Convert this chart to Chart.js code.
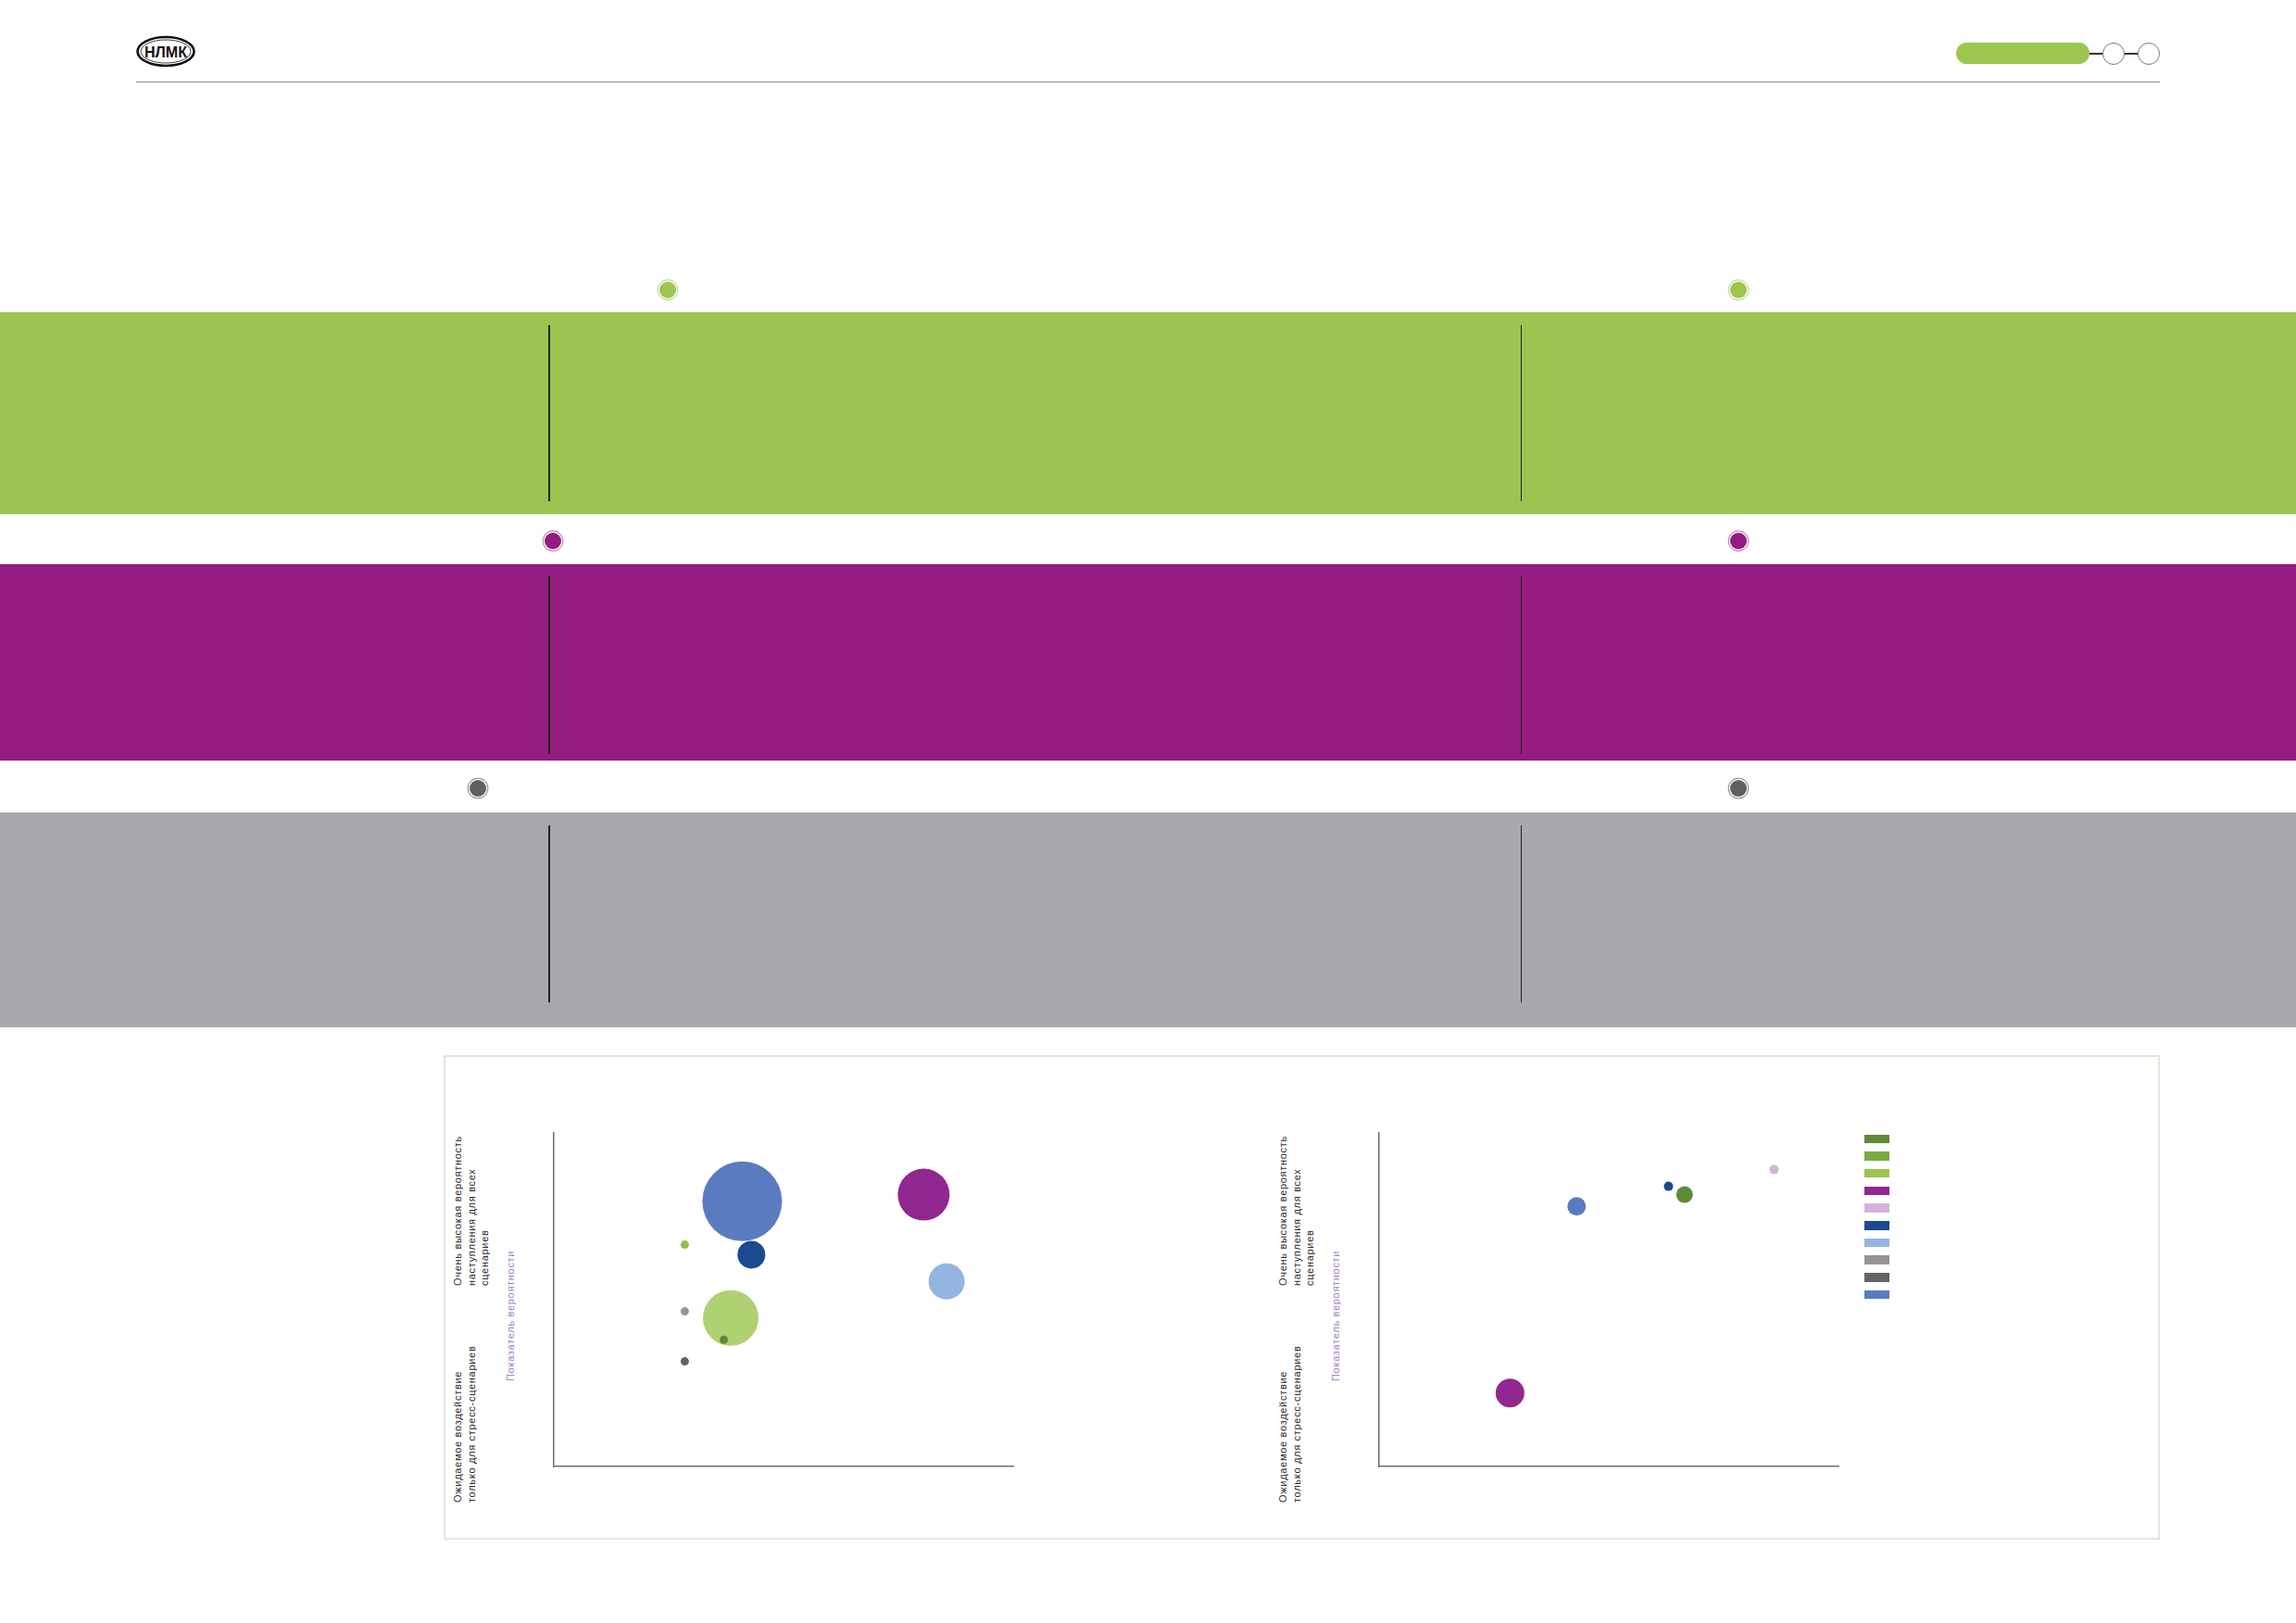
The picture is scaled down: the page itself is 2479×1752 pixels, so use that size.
<!DOCTYPE html>
<html lang="ru">
<head>
  <meta charset="UTF-8" />
  <title>НЛМК — карта климатических рисков</title>
  <script src="https://cdn.jsdelivr.net/npm/chart.js@4.4.1/dist/chart.umd.min.js"></script>
  <style>
    body {
      margin: 0;
      background: #fff;
      font-family: "Liberation Sans", Arial, sans-serif;
    }
    .page {
      position: relative;
      width: 2479px;
      height: 1752px;
      overflow: hidden;
    }
    .abs { position: absolute; }
    .band { position: absolute; left: 0; width: 2479px; }
    .vline { position: absolute; width: 1.5px; background: #222; }
    .dot {
      position: absolute;
      width: 18px;
      height: 18px;
      border-radius: 50%;
    }
    .rot {
      position: absolute;
      writing-mode: vertical-rl;
      transform: rotate(180deg);
      white-space: nowrap;
      font-size: 11px;
      letter-spacing: 0.7px;
      line-height: 14.5px;
      color: #2b2b2b;
    }
    .rot.purple { color: #a083c4; }
    .chart-box { position: absolute; }
    .legend-sq { position: absolute; width: 27px; height: 9.5px; }
  </style>
</head>
<body>
<div class="page" id="page">
  <!-- header -->
  <svg class="abs" style="left:140px;top:30px" width="80" height="52">
    <ellipse cx="39" cy="25.5" rx="30.5" ry="15.5" fill="none" stroke="#111" stroke-width="2.6"/>
    <ellipse cx="39" cy="25.5" rx="27" ry="12.5" fill="none" stroke="#111" stroke-width="0.8"/>
    <text x="39" y="31.5" text-anchor="middle" font-family="Liberation Sans, Arial, sans-serif" font-weight="bold" font-size="16" fill="#111">НЛМК</text>
  </svg>
  <div class="abs" style="left:2112px;top:46px;width:144px;height:23px;border-radius:12px;background:#9cc64e"></div>
  <div class="abs" style="left:2256px;top:57px;width:14px;height:1.5px;background:#333"></div>
  <div class="abs" style="left:2270px;top:45.5px;width:22px;height:22px;border-radius:50%;border:1px solid #777"></div>
  <div class="abs" style="left:2294px;top:57px;width:14px;height:1.5px;background:#333"></div>
  <div class="abs" style="left:2308px;top:45.5px;width:22px;height:22px;border-radius:50%;border:1px solid #777"></div>
  <div class="abs" style="left:147px;top:87.5px;width:2185px;height:1.5px;background:#8a8a8a"></div>

  <!-- bands -->
  <div class="dot" style="left:712px;top:304px;background:#9cc64e;box-shadow:0 0 0 1.2px #fff,0 0 0 2.4px #c3dd98"></div>
  <div class="dot" style="left:1868px;top:304px;background:#9cc64e;box-shadow:0 0 0 1.2px #fff,0 0 0 2.4px #c3dd98"></div>
  <div class="band" style="top:337px;height:218px;background:#9bc450"></div>
  <div class="vline" style="left:592px;top:351px;height:190px"></div>
  <div class="vline" style="left:1641.5px;top:351px;height:190px"></div>

  <div class="dot" style="left:588px;top:574.5px;background:#931c7e;box-shadow:0 0 0 1.2px #fff,0 0 0 2.4px #c88cbf"></div>
  <div class="dot" style="left:1868px;top:574.5px;background:#931c7e;box-shadow:0 0 0 1.2px #fff,0 0 0 2.4px #c88cbf"></div>
  <div class="band" style="top:608.5px;height:212.5px;background:#931c7e"></div>
  <div class="vline" style="left:592px;top:621.5px;height:192px"></div>
  <div class="vline" style="left:1641.5px;top:621.5px;height:192px"></div>

  <div class="dot" style="left:506.5px;top:842px;background:#5f6062;box-shadow:0 0 0 1.2px #fff,0 0 0 2.4px #9a9a9a"></div>
  <div class="dot" style="left:1868px;top:842px;background:#5f6062;box-shadow:0 0 0 1.2px #fff,0 0 0 2.4px #9a9a9a"></div>
  <div class="band" style="top:877px;height:232px;background:#a8a9ac"></div>
  <div class="vline" style="left:592px;top:890.5px;height:191px"></div>
  <div class="vline" style="left:1641.5px;top:890.5px;height:191px"></div>

  <!-- chart frame -->
  <div class="abs" style="left:479px;top:1138.5px;width:1849px;height:519px;border:2px solid #e3e7d6"></div>

  <div class="rot" style="left:487px;top:1218px;height:170px">Очень высокая вероятность<br>наступления для всех<br>сценариев</div>
  <div class="rot" style="left:487px;top:1442px;height:180px">Ожидаемое воздействие<br>только для стресс-сценариев</div>
  <div class="rot purple" style="left:544px;top:1331px;height:160px">Показатель вероятности</div>

  <div class="rot" style="left:1378px;top:1218px;height:170px">Очень высокая вероятность<br>наступления для всех<br>сценариев</div>
  <div class="rot" style="left:1378px;top:1442px;height:180px">Ожидаемое воздействие<br>только для стресс-сценариев</div>
  <div class="rot purple" style="left:1435px;top:1331px;height:160px">Показатель вероятности</div>

  <div class="chart-box" style="left:538px;top:1163px;width:616px;height:480px"><canvas id="chart1"></canvas></div>
  <div class="chart-box" style="left:1429px;top:1163px;width:616px;height:480px"><canvas id="chart2"></canvas></div>
</div>

<script>
  // legend categories (no labels in the source, only colour keys)
  const legendColors = ['#5f8a36', '#77ab43', '#9cc64e', '#92278f', '#d4b3d9',
                        '#1b4a91', '#93b5df', '#939598', '#636466', '#5a7bbf'];

  // left map: impact (x), probability (y), bubble size (r)
  const riskX1 = [4.1, 8.05, 2.85, 4.3, 8.55, 2.85, 3.85, 3.7, 2.85];
  const riskY1 = [7.95, 8.15, 6.65, 6.35, 5.55, 4.65, 4.45, 3.8, 3.15];
  const riskR1 = [43, 28, 4.5, 15, 19.5, 4.5, 30, 4.5, 4.5];
  const riskColor1 = ['#5a7bbf', '#92278f', '#8dc43f', '#1b4a91', '#93b5df',
                      '#939598', 'rgba(156,198,78,0.8)', '#5f8a36', '#636466'];

  // right map
  const riskX2 = [4.3, 6.3, 6.65, 8.6, 2.85];
  const riskY2 = [7.8, 8.4, 8.15, 8.9, 2.2];
  const riskR2 = [10, 5, 9, 5, 15.5];
  const riskColor2 = ['#5a7bbf', '#1b4a91', '#5f8a36', '#d4b3d9', '#92278f'];

  const axisMin = 0, axisMax = 10;

  function makeChart(id, xs, ys, rs, colors) {
    const pts = xs.map((x, i) => ({ x: x, y: ys[i], r: rs[i] }));
    const axis = {
      type: 'linear',
      min: axisMin,
      max: axisMax,
      ticks: { display: false },
      grid: { display: false, drawTicks: false },
      border: { display: true, color: '#6d6e71', width: 1.5 }
    };
    return new Chart(document.getElementById(id), {
      type: 'bubble',
      data: {
        datasets: [{
          data: pts,
          backgroundColor: colors,
          borderWidth: 0,
          hoverBorderWidth: 0,
          clip: false
        }]
      },
      options: {
        responsive: true,
        maintainAspectRatio: false,
        animation: false,
        layout: { padding: 60 },
        scales: { x: axis, y: axis },
        plugins: { legend: { display: false }, tooltip: { enabled: false } }
      }
    });
  }

  makeChart('chart1', riskX1, riskY1, riskR1, riskColor1);
  makeChart('chart2', riskX2, riskY2, riskR2, riskColor2);

  // colour key at the right
  const page = document.getElementById('page');
  legendColors.forEach((c, i) => {
    const sq = document.createElement('div');
    sq.className = 'legend-sq';
    sq.style.left = '2013px';
    sq.style.top = (1224.5 + i * 18.7) + 'px';
    sq.style.background = c;
    page.appendChild(sq);
  });
</script>
</body>
</html>
